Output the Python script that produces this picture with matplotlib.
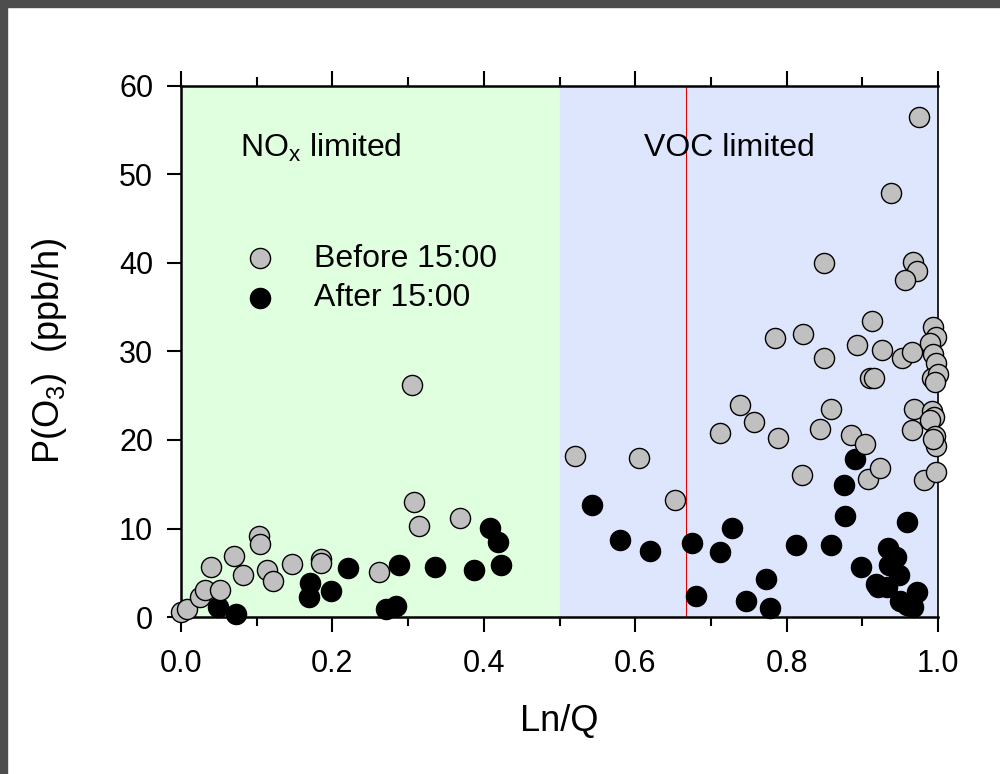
import matplotlib
matplotlib.use("Agg")
import matplotlib.pyplot as plt
from matplotlib.patches import Rectangle

plt.rcParams["font.family"] = ["Liberation Sans", "DejaVu Sans"]
plt.rcParams["mathtext.default"] = "regular"

# P(O3) vs Ln/Q, before 15:00 (grey)
before_x = [0.000, 0.008, 0.025, 0.032, 0.051, 0.039, 0.070, 0.082, 0.103, 0.105,
            0.113, 0.122, 0.146, 0.185, 0.185, 0.262, 0.305, 0.308, 0.314, 0.368,
            0.520, 0.605, 0.653, 0.712, 0.738, 0.757, 0.788, 0.820, 0.844, 0.859,
            0.885, 0.903, 0.908, 0.923, 0.982, 0.998, 0.968, 0.966, 0.992, 0.995,
            0.990, 0.996, 0.998, 0.994, 0.785, 0.822, 0.849, 0.893, 0.926, 0.953,
            0.966, 0.993, 0.998, 0.990, 0.994, 0.997, 0.992, 1.000, 0.996, 0.910,
            0.915, 0.913, 0.849, 0.967, 0.972, 0.957, 0.938, 0.975]
before_y = [0.6, 0.9, 2.3, 3.0, 3.0, 5.6, 6.9, 4.7, 9.2, 8.3,
            5.3, 4.1, 6.0, 6.5, 6.1, 5.1, 26.2, 13.0, 10.3, 11.2,
            18.2, 18.0, 13.2, 20.8, 24.0, 22.0, 20.2, 16.1, 21.2, 23.5,
            20.6, 19.6, 15.6, 16.8, 15.5, 16.4, 23.5, 21.1, 23.3, 22.6,
            22.3, 20.4, 19.3, 20.1, 31.5, 32.0, 29.3, 30.7, 30.2, 29.3,
            29.9, 32.8, 31.6, 31.0, 29.7, 28.7, 27.0, 27.4, 26.5, 27.0,
            27.0, 33.4, 40.0, 40.1, 39.1, 38.1, 47.9, 56.5]

# after 15:00 (black)
after_x = [0.049, 0.072, 0.170, 0.169, 0.198, 0.221, 0.271, 0.284, 0.288, 0.335,
           0.387, 0.408, 0.419, 0.423, 0.543, 0.580, 0.620, 0.675, 0.680, 0.712,
           0.728, 0.747, 0.773, 0.778, 0.813, 0.858, 0.876, 0.877, 0.891, 0.898,
           0.959, 0.934, 0.945, 0.935, 0.948, 0.918, 0.932, 0.921, 0.950, 0.959,
           0.972, 0.967]
after_y = [1.1, 0.3, 3.9, 2.3, 2.9, 5.5, 0.9, 1.3, 5.9, 5.6,
           5.3, 10.1, 8.5, 5.9, 12.6, 8.7, 7.5, 8.4, 2.4, 7.3,
           10.1, 1.8, 4.3, 1.05, 8.1, 8.1, 14.9, 11.4, 17.9, 5.7,
           10.7, 7.8, 6.8, 5.9, 4.8, 3.7, 3.4, 3.4, 1.85, 1.4,
           2.8, 1.15]

REGIME_SPLIT = 0.5
THRESHOLD = 2 / 3

fig = plt.figure(figsize=(10, 7.74), dpi=100)
ax = fig.add_axes([0.181, 0.2028, 0.757, 0.6862])

ax.axvspan(0, REGIME_SPLIT, color="#dfffdf", zorder=0)
ax.axvspan(REGIME_SPLIT, 1, color="#dee6fe", zorder=0)
ax.axvline(THRESHOLD, color="#e00000", lw=0.8, zorder=1)

h_after = ax.scatter(after_x, after_y, s=210, c="black", edgecolors="black",
                     linewidths=1, zorder=3, clip_on=False, label="After 15:00")
h_before = ax.scatter(before_x, before_y, s=210, c="#c0c0c0", edgecolors="black",
                      linewidths=1, zorder=4, clip_on=False, label="Before 15:00")

ax.set_xlim(0, 1)
ax.set_ylim(0, 60)
ax.set_xticks([0, 0.2, 0.4, 0.6, 0.8, 1.0])
ax.set_xticks([0.1, 0.3, 0.5, 0.7, 0.9], minor=True)
ax.set_yticks(range(0, 61, 10))
ax.tick_params(axis="x", which="both", direction="out", top=True, width=1.5,
               labelsize=22, pad=12)
ax.tick_params(axis="x", which="major", length=11)
ax.tick_params(axis="x", which="minor", length=6.5)
ax.tick_params(axis="y", which="major", direction="out", length=10, width=1.5,
               labelsize=22, right=False, pad=10)
for sp in ax.spines.values():
    sp.set_linewidth(1.8)
ax.spines["right"].set_linewidth(1.2)

ax.set_xlabel("Ln/Q", fontsize=26, labelpad=18)
ax.set_ylabel("P(O$_3$)  (ppb/h)", fontsize=26, labelpad=36)

ax.text(0.078, 53, "NO$_x$ limited", fontsize=23, ha="left", va="center")
ax.text(0.724, 53, "VOC limited", fontsize=23, ha="center", va="center")

ax.legend(handles=[h_before, h_after], loc="upper left",
          bbox_to_anchor=(0.07, 0.727), frameon=False, fontsize=23,
          handlelength=0.8, handletextpad=1.3, labelspacing=0.3,
          borderaxespad=0)

# dark frame strips on top and left edges
fig.patches.append(Rectangle((0, 0), 0.007, 1, transform=fig.transFigure,
                             color="#4d4d4d", zorder=10))
fig.patches.append(Rectangle((0, 0.991), 1, 0.009, transform=fig.transFigure,
                             color="#4d4d4d", zorder=10))

fig.savefig("out.png", dpi=100)
